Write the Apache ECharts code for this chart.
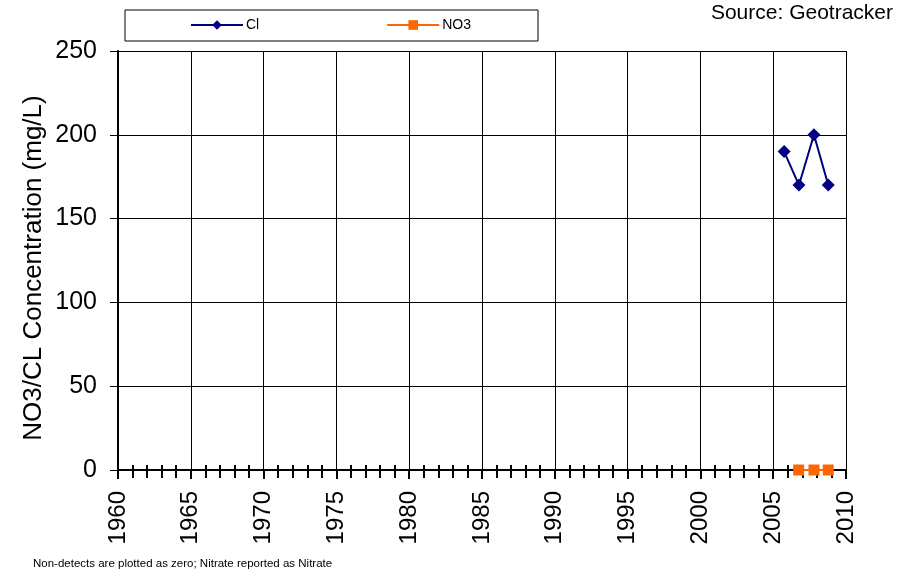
<!DOCTYPE html>
<html><head><meta charset="utf-8">
<script src="https://cdn.jsdelivr.net/npm/echarts@6/dist/echarts.min.js"></script>
<style>html,body{margin:0;padding:0;background:#fff}#c{width:919px;height:578px}</style>
</head><body><div id="c"></div>
<script>
const clYears = [2005.75, 2006.77, 2007.8, 2008.78];
const clValues = [190, 170, 200, 170];
const no3Years = [2006.75, 2007.8, 2008.78];
const no3Values = [0, 0, 0];
const seriesNames = ['Cl', 'NO3'];
const xMin = 1960, xMax = 2010, xStep = 5;
const yMin = 0, yMax = 250, yStep = 50;

const font = '"Liberation Sans", Arial, sans-serif';
const chart = echarts.init(document.getElementById('c'));
chart.setOption({
  animation: false,
  backgroundColor: '#fff',
  textStyle: { fontFamily: font },
  grid: { left: 118, right: 73, top: 51, bottom: 108 },
  legend: {
    left: 125, top: 10,
    padding: [8, 67, 9, 65],
    borderColor: '#000', borderWidth: 1,
    itemWidth: 52, itemHeight: 12, itemGap: 127,
    textStyle: { fontFamily: font, fontSize: 14, color: '#000', padding: [0, 0, 0, -2] },
    data: seriesNames
  },
  graphic: [
    { type: 'text', right: 26, top: 3, style: { text: 'Source: Geotracker', font: '21px ' + font, fill: '#000' } },
    { type: 'text', left: 33, top: 558, style: { text: 'Non-detects are plotted as zero; Nitrate reported as Nitrate', font: '11.5px ' + font, fill: '#000' } },
    { type: 'text', x: 34, y: 268, rotation: Math.PI / 2,
      style: { text: 'NO3/CL Concentration (mg/L)', font: '26px ' + font, fill: '#000', align: 'center', verticalAlign: 'middle' } }
  ],
  xAxis: [{
    type: 'value', min: xMin, max: xMax, interval: xStep,
    axisLine: { show: true, onZero: false, lineStyle: { color: '#000', width: 2 } },
    axisTick: { show: true, length: 9, inside: false, lineStyle: { color: '#000', width: 2 } },
    minorTick: { show: true, splitNumber: 5, length: 8, lineStyle: { color: '#000', width: 2 } },
    splitLine: { show: true, lineStyle: { color: '#000', width: 1 } },
    axisLabel: { rotate: 90, fontSize: 24, color: '#000', margin: 21, fontFamily: font, formatter: v => String(v), showMinLabel: true, showMaxLabel: true }
  }, {
    type: 'value', min: xMin, max: xMax, interval: xStep, position: 'bottom', offset: 0,
    axisLine: { show: false, onZero: false },
    axisTick: { show: false },
    minorTick: { show: true, splitNumber: 5, length: -5, lineStyle: { color: '#000', width: 2 } },
    splitLine: { show: false },
    axisLabel: { show: false }
  }],
  yAxis: {
    type: 'value', min: yMin, max: yMax, interval: yStep,
    axisLine: { show: true, lineStyle: { color: '#000', width: 2 } },
    axisTick: { show: true, length: 8, lineStyle: { color: '#000', width: 1 } },
    splitLine: { show: true, lineStyle: { color: '#000', width: 1 } },
    axisLabel: { fontSize: 25, color: '#000', margin: 21, fontFamily: font }
  },
  series: [
    {
      name: seriesNames[0], type: 'line',
      data: clYears.map((x, i) => [x, clValues[i]]),
      symbol: 'diamond', symbolSize: 13,
      itemStyle: { color: '#000080' },
      lineStyle: { color: '#000080', width: 2 }
    },
    {
      name: seriesNames[1], type: 'line',
      data: no3Years.map((x, i) => [x, no3Values[i]]),
      symbol: 'rect', symbolSize: 11,
      itemStyle: { color: '#FF6600' },
      lineStyle: { color: '#FF6600', width: 2 }
    }
  ]
});
</script></body></html>
